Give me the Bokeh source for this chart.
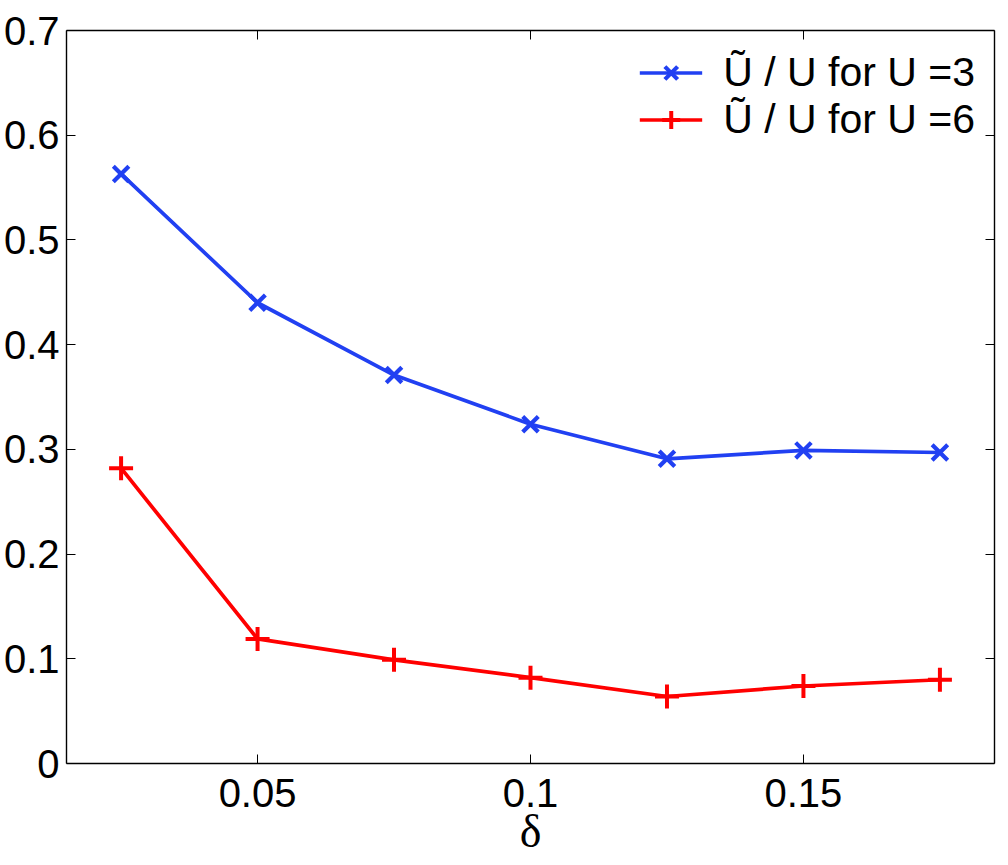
from bokeh.embed import file_html
from bokeh.models import FixedTicker, LinearAxis, Range1d
from bokeh.plotting import figure
from bokeh.resources import INLINE

# values
delta = [0.025, 0.05, 0.075, 0.1, 0.125, 0.15, 0.175]
ratio_u3 = [0.563, 0.440, 0.371, 0.324, 0.291, 0.299, 0.297]
ratio_u6 = [0.282, 0.119, 0.099, 0.082, 0.064, 0.074, 0.080]

x_ticks = [0.05, 0.1, 0.15]
x_tick_labels = ["0.05", "0.1", "0.15"]
y_ticks = [0.0, 0.1, 0.2, 0.3, 0.4, 0.5, 0.6, 0.7]
y_tick_labels = ["0", "0.1", "0.2", "0.3", "0.4", "0.5", "0.6", "0.7"]

FONT = "Liberation Sans"
BLUE = "#2140f2"
RED = "#ff0000"

p = figure(frame_width=928, frame_height=733,
           min_border_left=65, min_border_top=30, min_border_right=6,
           min_border_bottom=10,
           x_range=Range1d(0.015, 0.185), y_range=Range1d(0, 0.7),
           output_backend="svg", toolbar_location=None,
           background_fill_color="white", border_fill_color="white")
p.outline_line_color = None
p.xgrid.visible = False
p.ygrid.visible = False


def style_axis(ax, ticks, labels, standoff, show_labels=True):
    ax.ticker = FixedTicker(ticks=ticks)
    ax.major_tick_in = 9
    ax.major_tick_out = 0
    ax.major_tick_line_color = "black"
    ax.major_tick_line_width = 1
    ax.minor_tick_line_color = None
    ax.axis_line_color = "black"
    ax.axis_line_width = 1.4
    ax.major_label_text_font = FONT
    if show_labels:
        ax.major_label_overrides = {t: s for t, s in zip(ticks, labels)}
        ax.major_label_text_color = "black"
        ax.major_label_text_font_size = "40px"
        ax.major_label_standoff = standoff
    else:
        ax.major_label_text_color = None
        ax.major_label_text_font_size = "1px"
        ax.major_label_standoff = 0


style_axis(p.xaxis[0], x_ticks, x_tick_labels, 15)
style_axis(p.yaxis[0], y_ticks, y_tick_labels, 7)

p.xaxis.axis_label = "δ"
p.xaxis.axis_label_text_font = "Liberation Serif"
p.xaxis.axis_label_text_font_style = "normal"
p.xaxis.axis_label_text_font_size = "46px"
p.xaxis.axis_label_text_color = "black"
p.xaxis.axis_label_standoff = -4

top_ax = LinearAxis()
style_axis(top_ax, x_ticks, x_tick_labels, 0, show_labels=False)
p.add_layout(top_ax, "above")
right_ax = LinearAxis()
style_axis(right_ax, y_ticks, y_tick_labels, 0, show_labels=False)
p.add_layout(right_ax, "right")

lab3 = "Ũ / U for U =3"
lab6 = "Ũ / U for U =6"
p.line(delta, ratio_u3, line_color=BLUE, line_width=3.7, legend_label=lab3)
p.scatter(delta, ratio_u3, marker="x", size=22, line_color=BLUE,
          line_width=4.2, legend_label=lab3)
p.line(delta, ratio_u6, line_color=RED, line_width=3.7, legend_label=lab6)
p.scatter(delta, ratio_u6, marker="cross", size=24, line_color=RED,
          line_width=4, legend_label=lab6)

leg = p.legend[0]
leg.location = "top_right"
leg.margin = 19
leg.padding = 0
leg.spacing = 0
leg.label_height = 45
leg.glyph_height = 45
leg.glyph_width = 63
leg.label_standoff = 21
leg.label_text_font = FONT
leg.label_text_font_size = "41px"
leg.label_text_color = "black"
leg.background_fill_alpha = 0
leg.border_line_color = None

open("out.html", "w").write(file_html(p, INLINE))
